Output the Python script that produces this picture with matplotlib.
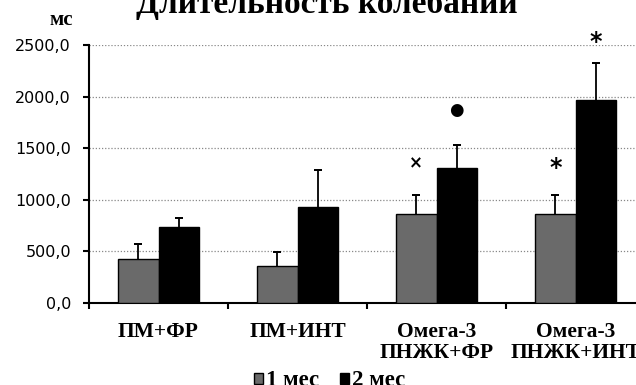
import numpy as np
import matplotlib.pyplot as plt

# ---------- data ----------
GROUPS = ["ПМ+ФР", "ПМ+ИНТ", "Омега-3\nПНЖК+ФР", "Омега-3\nПНЖК+ИНТ"]
MONTH1 = [426, 358, 862, 862]
MONTH1_ERR = [146, 136, 184, 184]
MONTH2 = [740, 933, 1306, 1967]
MONTH2_ERR = [83, 357, 224, 358]
YTICKS = [0, 500, 1000, 1500, 2000, 2500]

# significance marks: (group, series, symbol, height)
MARKS = [(2, 0, "×", 1357), (2, 1, "●", 1870), (3, 0, "*", 1308), (3, 1, "*", 2529)]

SERIF = ["Liberation Serif", "DejaVu Serif"]
GRAY = "#6a6a6a"
W = 0.29

fig = plt.figure(figsize=(6.36, 3.85), dpi=100)
ax = fig.add_axes([89 / 636, 1 - 303 / 385, 556 / 636, 258 / 385])

x = np.arange(len(GROUPS))
ax.bar(x - W / 2, MONTH1, W, color=GRAY, edgecolor="black", linewidth=1, label="1 мес", zorder=3)
ax.bar(x + W / 2, MONTH2, W, color="black", edgecolor="black", linewidth=1, label="2 мес", zorder=3)
# upper whiskers only
for xs, vals, errs in ((x - W / 2, MONTH1, MONTH1_ERR), (x + W / 2, MONTH2, MONTH2_ERR)):
    tops = np.array(vals) + np.array(errs)
    ax.vlines(xs, vals, tops, color="black", linewidth=1.3, zorder=2)
    ax.errorbar(xs, tops, yerr=0, fmt="none", ecolor="black", capsize=3,
                capthick=1.3, elinewidth=0, zorder=2)

for g, s, sym, h in MARKS:
    xx = g - W / 2 if s == 0 else g + W / 2
    size = {"×": 12, "●": 12, "*": 17}[sym]
    ax.text(xx, h, sym, ha="center", va="center", fontsize=size,
            fontweight="bold", family=["DejaVu Sans"], clip_on=False)

ax.set_xlim(-0.5, 3.5)
ax.set_ylim(0, 2500)
ax.set_yticks(YTICKS)
ax.set_yticklabels([f"{v:.1f}".replace(".", ",") for v in YTICKS], fontsize=11.5)
ax.yaxis.grid(True, linestyle=(0, (1, 1.5)), color="#888888", linewidth=0.9, zorder=0)

ax.set_xticks(np.arange(-0.5, 3.5, 1.0))
ax.set_xticklabels([])
ax.set_xticks(x, minor=True)
ax.set_xticklabels(GROUPS, minor=True, fontsize=15.5, fontweight="bold",
                   family=SERIF, linespacing=1.05)
ax.tick_params(axis="x", which="minor", length=0, pad=14)
ax.tick_params(axis="x", which="major", length=4.5, width=1.5, direction="out")
ax.tick_params(axis="y", length=4, width=1.5, direction="out", pad=9)

for side in ("top", "right"):
    ax.spines[side].set_visible(False)
for side in ("left", "bottom"):
    ax.spines[side].set_linewidth(1.5)

fig.text(327 / 636, 1 - 13 / 385, "Длительность колебаний", ha="center", va="baseline",
         fontsize=24, fontweight="bold", family=SERIF)
fig.text(61 / 636, 1 - 20 / 385, "мс", ha="center", va="center",
         fontsize=15, fontweight="bold", family=SERIF)

fig.legend(loc="center", bbox_to_anchor=(330 / 636, 1 - 381 / 385), ncol=2,
           frameon=False, prop={"family": SERIF, "weight": "bold", "size": 16.5},
           handlelength=0.38, handleheight=0.38, handletextpad=0.15, columnspacing=0.9,
           borderpad=0)

fig.savefig("out.png", dpi=100)
